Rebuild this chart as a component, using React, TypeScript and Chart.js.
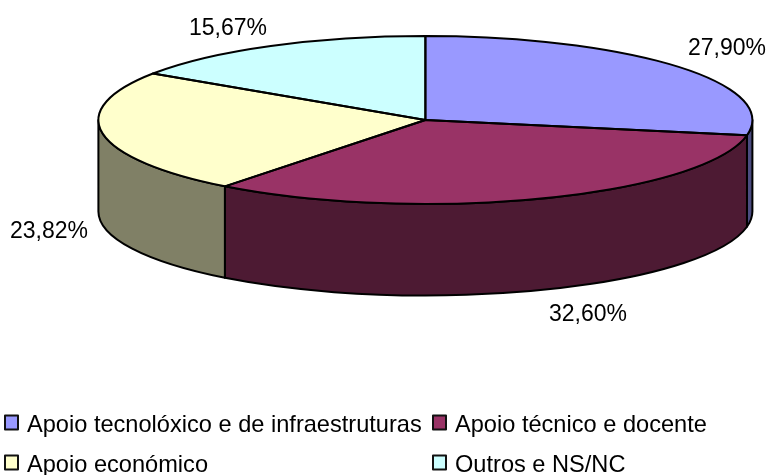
import React, { useEffect, useRef } from "react";
import { Chart, registerables } from "chart.js";

Chart.register(...registerables);

const categories = [
  "Apoio tecnolóxico e de infraestruturas",
  "Apoio técnico e docente",
  "Apoio económico",
  "Outros e NS/NC",
];
const shares = [27.9, 32.6, 23.82, 15.67];
const topColors = ["#9999FF", "#993366", "#FFFFCC", "#CCFFFF"];
const wallColors = ["#4C4C80", "#4D1A33", "#808066", "#668080"];

// Projection of the pie on the page
const CX = 425.4;
const CY = 120;
const RX = 327;
const RY = 84;
const DEPTH = 91.5;
const TEXT_FONT = '23px "Liberation Sans", Arial, sans-serif';
const LEGEND_FONT = '23.6px "Liberation Sans", Arial, sans-serif';
const labelAnchors = [
  { x: 727, y: 55 },
  { x: 588, y: 321 },
  { x: 49, y: 238 },
  { x: 228, y: 35 },
];
const legendColumns = [5, 433];
const legendBaselines = [431.5, 471.5];

const pie3d = {
  id: "pie3d",
  beforeDatasetsDraw(chart: any) {
    const { ctx } = chart;
    const arcs = chart.getDatasetMeta(0).data;
    ctx.save();
    ctx.lineWidth = 2;
    ctx.strokeStyle = "#000";
    ctx.lineJoin = "round";
    arcs.forEach((arc: any, i: number) => {
      const twoPi = Math.PI * 2;
      let s = arc.startAngle;
      let e = arc.endAngle;
      while (s < -Math.PI / 2) {
        s += twoPi;
        e += twoPi;
      }
      // Only the front half of the rim is visible: clip angle to [0, PI]
      const a0 = Math.max(s, 0);
      const a1 = Math.min(e, Math.PI);
      if (a1 <= a0) return;
      ctx.beginPath();
      ctx.ellipse(CX, CY, RX, RY, 0, a0, a1, false);
      ctx.ellipse(CX, CY + DEPTH, RX, RY, 0, a1, a0, true);
      ctx.closePath();
      ctx.fillStyle = wallColors[i];
      ctx.fill();
      ctx.stroke();
    });
    ctx.restore();
  },
  beforeDatasetDraw(chart: any) {
    const { ctx } = chart;
    const arc = chart.getDatasetMeta(0).data[0];
    const r = arc.outerRadius;
    ctx.save();
    ctx.translate(CX, CY);
    ctx.scale(RX / r, RY / r);
    ctx.translate(-arc.x, -arc.y);
  },
  afterDatasetDraw(chart: any) {
    chart.ctx.restore();
  },
  afterDatasetsDraw(chart: any) {
    const { ctx } = chart;
    const arcs = chart.getDatasetMeta(0).data;
    ctx.save();
    ctx.lineWidth = 2;
    ctx.strokeStyle = "#000";
    ctx.lineJoin = "round";
    arcs.forEach((arc: any) => {
      ctx.beginPath();
      ctx.moveTo(CX, CY);
      ctx.ellipse(CX, CY, RX, RY, 0, arc.startAngle, arc.endAngle, false);
      ctx.closePath();
      ctx.stroke();
    });
    // Percent labels
    ctx.fillStyle = "#000";
    ctx.font = TEXT_FONT;
    ctx.textAlign = "center";
    ctx.textBaseline = "alphabetic";
    shares.forEach((v, i) => {
      const text = v.toFixed(2).replace(".", ",") + "%";
      ctx.fillText(text, labelAnchors[i].x, labelAnchors[i].y);
    });
    // Two-column legend
    ctx.font = LEGEND_FONT;
    ctx.textAlign = "left";
    categories.forEach((name, i) => {
      const x = legendColumns[i % 2];
      const y = legendBaselines[Math.floor(i / 2)];
      ctx.fillStyle = topColors[i];
      ctx.strokeStyle = "#111";
      ctx.lineWidth = 2;
      ctx.fillRect(x, y - 16, 13, 14);
      ctx.strokeRect(x, y - 16, 13, 14);
      ctx.fillStyle = "#000";
      ctx.fillText(name, x + 22, y);
    });
    ctx.restore();
  },
};

export default function App() {
  const ref = useRef<HTMLCanvasElement>(null);
  useEffect(() => {
    document.body.style.margin = "0";
    document.body.style.background = "#fff";
    const chart = new Chart(ref.current as HTMLCanvasElement, {
      type: "pie",
      data: {
        labels: categories,
        datasets: [
          {
            data: shares,
            backgroundColor: topColors,
            borderWidth: 0,
          },
        ],
      },
      options: {
        responsive: false,
        animation: false,
        plugins: {
          legend: { display: false },
          tooltip: { enabled: false },
        },
      },
      plugins: [pie3d],
    } as any);
    return () => chart.destroy();
  }, []);
  return (
    <div style={{ width: 768, height: 475 }}>
      <canvas ref={ref} width={768} height={475} style={{ display: "block" }} />
    </div>
  );
}
